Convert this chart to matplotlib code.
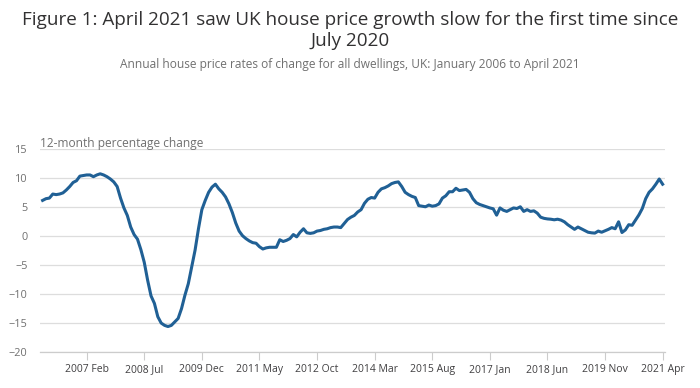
import matplotlib.pyplot as plt
import pandas as pd

plt.rcParams['font.family'] = ['Open Sans', 'DejaVu Sans']

# monthly dates, Jan 2006 to Apr 2021
months = pd.date_range("2006-01-01", "2021-04-01", freq="MS")

# 12-month percentage change
rate = [
    6.2, 6.5, 6.6, 7.3, 7.2, 7.3, 7.5, 8.0, 8.6, 9.3, 9.6, 10.4,          # 2006
    10.5, 10.6, 10.6, 10.3, 10.6, 10.8, 10.6, 10.3, 9.9, 9.4, 8.6, 6.6,   # 2007
    4.9, 3.6, 1.6, 0.3, -0.5, -2.3, -4.5, -7.6, -10.3, -11.6, -13.9, -15.0,  # 2008
    -15.4, -15.6, -15.4, -14.8, -14.2, -12.5, -10.2, -8.2, -5.3, -2.4, 1.3, 4.6,  # 2009
    6.2, 7.6, 8.5, 9.0, 8.2, 7.6, 6.8, 5.6, 4.1, 2.3, 0.9, 0.1,           # 2010
    -0.4, -0.8, -1.1, -1.2, -1.8, -2.2, -2.0, -1.9, -1.9, -1.9, -0.6, -0.9,  # 2011
    -0.7, -0.4, 0.3, -0.1, 0.7, 1.3, 0.6, 0.5, 0.6, 0.9, 1.0, 1.2,        # 2012
    1.3, 1.5, 1.6, 1.6, 1.5, 2.2, 2.9, 3.3, 3.6, 4.2, 4.6, 5.7,           # 2013
    6.4, 6.7, 6.6, 7.6, 8.2, 8.4, 8.7, 9.1, 9.3, 9.4, 8.6, 7.6,           # 2014
    7.2, 6.9, 6.7, 5.3, 5.2, 5.1, 5.4, 5.2, 5.3, 5.6, 6.6, 7.0,           # 2015
    7.7, 7.7, 8.3, 7.9, 8.0, 8.1, 7.6, 6.5, 5.8, 5.5, 5.3, 5.1,           # 2016
    4.9, 4.75, 3.65, 4.9, 4.5, 4.3, 4.6, 4.9, 4.8, 5.1, 4.3, 4.6,         # 2017
    4.3, 4.4, 4.0, 3.3, 3.1, 3.0, 2.95, 2.85, 2.95, 2.8, 2.5, 2.0,        # 2018
    1.6, 1.2, 1.6, 1.3, 1.0, 0.7, 0.6, 0.55, 0.9, 0.7, 0.95, 1.2,         # 2019
    1.5, 1.3, 2.5, 0.65, 1.1, 2.0, 1.9, 2.8, 3.7, 4.8, 6.5, 7.6,          # 2020
    8.2, 9.0, 9.9, 9.0,                                                   # 2021
]

y_ticks = [-20, -15, -10, -5, 0, 5, 10, 15]

title = "Figure 1: April 2021 saw UK house price growth slow for the first time since\nJuly 2020"
subtitle = "Annual house price rates of change for all dwellings, UK: January 2006 to April 2021"
y_label = "12-month percentage change"

fig = plt.figure(figsize=(7, 3.88), dpi=100)
ax = fig.add_axes([0.057, 0.0928, 0.893, 0.5219])

x = list(range(len(rate)))
ax.plot(x, rate, color="#206095", linewidth=2.2, solid_joinstyle="round")

ax.set_xlim(-0.8, len(rate) - 0.3)
ax.set_ylim(-20, 15)
ax.set_yticks(y_ticks)
ax.yaxis.grid(True, color="#dddddd", linewidth=0.9)
ax.set_axisbelow(True)

tick_pos = list(range(13, len(rate), 17))
tick_lab = [months[i].strftime("%Y %b") for i in tick_pos]
ax.set_xticks(tick_pos)
ax.set_xticklabels(tick_lab)

for s in ["top", "right", "left"]:
    ax.spines[s].set_visible(False)
ax.spines["bottom"].set_color("#cccccc")
ax.spines["bottom"].set_linewidth(0.9)

ax.tick_params(axis="y", length=0, labelsize=7.8, labelcolor="#707070", pad=9)
ax.tick_params(axis="x", length=6, color="#cccccc", labelsize=7.5, labelcolor="#414042", pad=3)

fig.text(0.5, 0.922, title, ha="center", va="center", fontsize=13.6, color="#323132", linespacing=1.25)
fig.text(0.5, 0.835, subtitle, ha="center", va="center", fontsize=8.6, color="#707070")
fig.text(0.057, 0.630, y_label, ha="left", va="center", fontsize=8.6, color="#707070")

fig.savefig("out.png", dpi=100)
